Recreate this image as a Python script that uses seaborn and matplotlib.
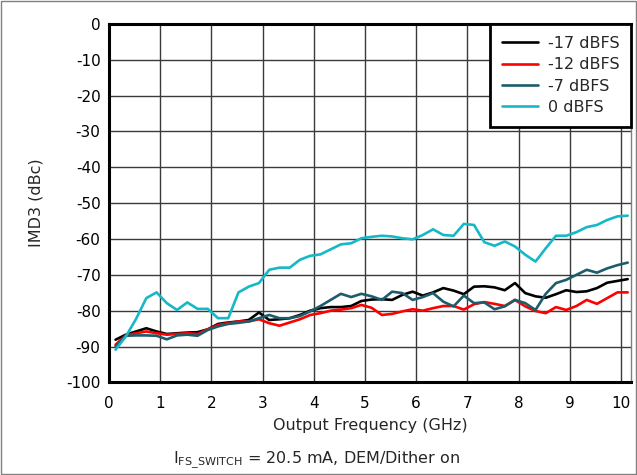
import matplotlib
matplotlib.use("Agg")
import pandas as pd
import matplotlib.pyplot as plt
import seaborn as sns
from matplotlib.patches import Rectangle

# -----------------------------
# Data
# -----------------------------
freq_ghz = [0.13, 0.33, 0.53, 0.73, 0.93, 1.13, 1.33, 1.53, 1.73, 1.93,
            2.13, 2.33, 2.53, 2.73, 2.93, 3.13, 3.33, 3.53, 3.73, 3.93,
            4.13, 4.33, 4.53, 4.73, 4.93, 5.13, 5.33, 5.53, 5.73, 5.93,
            6.13, 6.33, 6.53, 6.73, 6.93, 7.13, 7.33, 7.53, 7.73, 7.93,
            8.13, 8.33, 8.53, 8.73, 8.93, 9.13, 9.33, 9.53, 9.73, 9.93,
            10.13]

imd3_m17 = [-88.1, -86.7, -85.8, -84.9, -85.8, -86.5, -86.3, -86.1, -86.0, -85.2,
            -83.7, -83.3, -83.0, -82.6, -80.5, -82.6, -82.4, -82.1, -81.2, -80.0,
            -79.3, -79.0, -79.0, -78.7, -77.3, -76.9, -76.8, -77.0, -75.6, -74.7,
            -75.8, -74.9, -73.7, -74.4, -75.4, -73.3, -73.2, -73.5, -74.3, -72.3,
            -75.1, -76.0, -76.4, -75.4, -74.3, -74.8, -74.6, -73.7, -72.2, -71.7,
            -71.2]

imd3_m12 = [-89.5, -86.9, -86.3, -85.8, -86.3, -86.7, -86.5, -86.3, -86.5, -85.2,
            -84.0, -83.5, -83.0, -83.0, -82.4, -83.5, -84.2, -83.3, -82.4, -81.2,
            -80.7, -80.0, -79.7, -79.3, -78.4, -79.2, -81.2, -80.9, -80.2, -79.6,
            -80.0, -79.3, -78.7, -78.7, -79.7, -78.2, -77.6, -78.1, -78.7, -77.0,
            -78.8, -80.1, -80.7, -79.0, -79.8, -78.7, -77.0, -78.1, -76.5, -74.9,
            -74.9]

imd3_m7 = [-89.9, -87.0, -86.9, -86.9, -87.0, -88.0, -86.9, -86.7, -87.0, -85.4,
           -84.4, -83.7, -83.4, -83.0, -82.1, -81.2, -82.1, -82.1, -81.5, -80.2,
           -78.7, -77.0, -75.3, -76.2, -75.3, -76.0, -77.0, -74.7, -75.1, -77.0,
           -76.2, -75.1, -77.5, -78.8, -75.8, -77.9, -77.7, -79.6, -78.8, -77.0,
           -77.9, -79.8, -75.3, -72.3, -71.4, -70.0, -68.6, -69.4, -68.2, -67.3,
           -66.6]

imd3_0 = [-90.9, -87.2, -82.3, -76.5, -74.9, -77.9, -79.8, -77.7, -79.5, -79.5,
          -82.1, -82.1, -74.9, -73.3, -72.3, -68.6, -68.0, -68.0, -65.8, -64.7,
          -64.3, -62.9, -61.5, -61.2, -59.8, -59.4, -59.1, -59.3, -59.8, -60.1,
          -58.9, -57.3, -58.9, -59.1, -55.8, -56.1, -60.9, -61.9, -60.7, -62.1,
          -64.4, -66.3, -62.6, -59.1, -59.1, -58.1, -56.7, -56.1, -54.7, -53.7,
          -53.5]

series_labels = ["-17 dBFS", "-12 dBFS", "-7 dBFS", "0 dBFS"]
line_colors = ["#000000", "#ff0000", "#1c5c6b", "#16b8c8"]
x_ticks = [0, 1, 2, 3, 4, 5, 6, 7, 8, 9, 10]
y_ticks = [0, -10, -20, -30, -40, -50, -60, -70, -80, -90, -100]

# long-form table for seaborn
frames = []
for label, vals in zip(series_labels, [imd3_m17, imd3_m12, imd3_m7, imd3_0]):
    frames.append(pd.DataFrame({"freq": freq_ghz, "imd3": vals, "level": label}))
df = pd.concat(frames, ignore_index=True)

# -----------------------------
# Style
# -----------------------------
sns.set_style("white")
plt.rcParams["font.family"] = ["DejaVu Sans"]
plt.rcParams["axes.unicode_minus"] = False
plt.rcParams["mathtext.default"] = "regular"

fig = plt.figure(figsize=(6.37, 4.75), dpi=100)
ax = fig.add_axes([0.171, 0.195, 0.820, 0.7548])

sns.lineplot(data=df, x="freq", y="imd3", hue="level", hue_order=series_labels,
             palette=line_colors, linewidth=1.9, estimator=None, sort=False, ax=ax)

ax.set_xlim(0, 10.2)
ax.set_ylim(-100, 0)
ax.set_xticks(x_ticks)
ax.set_yticks(y_ticks)
ax.grid(True, color="#3a3a3a", linewidth=1.0)
ax.tick_params(axis="both", length=0, labelsize=11, colors="black")
ax.tick_params(axis="x", pad=10)
ax.tick_params(axis="y", pad=6)

for side in ["left", "bottom", "top"]:
    ax.spines[side].set_color("black")
    ax.spines[side].set_linewidth(2.2)
ax.spines["right"].set_color("#808080")
ax.spines["right"].set_linewidth(1.0)

ax.set_xlabel("Output Frequency (GHz)", fontsize=11.5)
ax.set_ylabel("IMD3 (dBc)", fontsize=11.5)
ax.xaxis.set_label_coords(0.5, -0.098)
ax.yaxis.set_label_coords(-0.126, 0.5)

handles, labels = ax.get_legend_handles_labels()
leg = ax.legend(handles, labels, loc="upper right", fontsize=11.5, frameon=True,
                fancybox=False, edgecolor="black", framealpha=1,
                borderaxespad=0, handlelength=2.25, handletextpad=0.62,
                labelspacing=0.4, borderpad=0.75)
leg.get_frame().set_linewidth(2.0)

fig.text(0.497, 1 - 463 / 475, r"I$_{\mathregular{FS\_SWITCH}}$ = 20.5 mA, DEM/Dither on",
         ha="center", va="baseline", fontsize=11.5)

# thin grey frame round the whole figure
fig.add_artist(Rectangle((0.001, 0.002), 0.997, 0.995, transform=fig.transFigure,
                         fill=False, edgecolor="#808080", linewidth=1.0))

fig.savefig("out.png", dpi=100)
